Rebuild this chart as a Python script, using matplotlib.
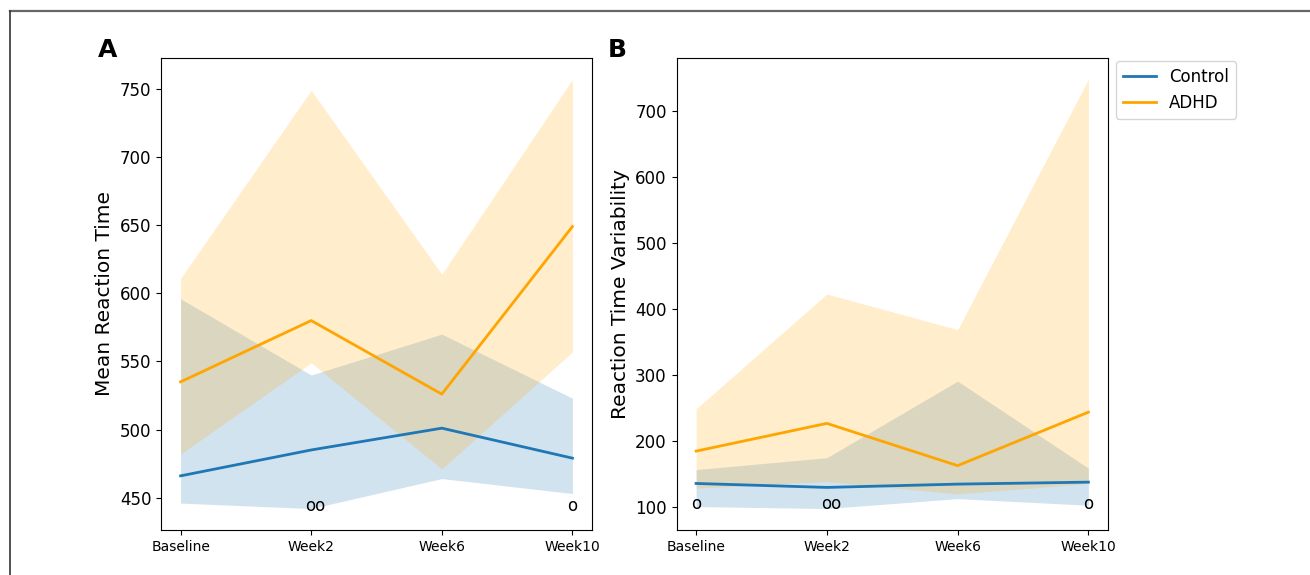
import numpy as np
import matplotlib
matplotlib.use('Agg')
from matplotlib import pyplot as plt
from matplotlib.lines import Line2D

# Data
weeks = ['Baseline', 'Week2', 'Week6', 'Week10']

# Panel A: mean reaction time
rt_control = [466, 485, 501, 479]
rt_control_lo = [446, 442, 464, 453]
rt_control_hi = [596, 540, 570, 523]
rt_adhd = [535, 580, 526, 649]
rt_adhd_lo = [482, 549, 471, 557]
rt_adhd_hi = [611, 749, 614, 757]
rt_marks = ['', 'oo', '', 'o']
rt_mark_y = 444

# Panel B: reaction time variability
var_control = [136, 130, 135, 138]
var_control_lo = [101, 98, 113, 103]
var_control_hi = [157, 175, 291, 159]
var_adhd = [185, 227, 163, 244]
var_adhd_lo = [129, 139, 120, 136]
var_adhd_hi = [249, 423, 369, 748]
var_marks = ['o', 'oo', '', 'o']
var_mark_y = 105

BLUE = '#1f77b4'
ORANGE = 'orange'
W, H = 1310, 575

fig = plt.figure(figsize=(W / 100, H / 100), dpi=100)
axA = fig.add_axes([161 / W, 1 - 530 / H, 431 / W, 472 / H])
axB = fig.add_axes([676.5 / W, 1 - 530 / H, 431.5 / W, 472 / H])

def draw_panel(ax, ctl, ctl_lo, ctl_hi, adhd, adhd_lo, adhd_hi, marks, mark_y, ylabel):
    x = np.arange(len(weeks))
    ax.plot(x, ctl, color=BLUE, lw=2, label='Control')
    ax.fill_between(x, ctl_lo, ctl_hi, color=BLUE, alpha=0.2, linewidth=0)
    ax.plot(x, adhd, color=ORANGE, lw=2, label='ADHD')
    ax.fill_between(x, adhd_lo, adhd_hi, color=ORANGE, alpha=0.2, linewidth=0)
    for xi, m in zip(x, marks):
        if m:
            ax.text(xi + (0.03 if len(m) > 1 else 0), mark_y, m,
                    ha='center', va='center', fontsize=12)
    ax.set_xticks(x)
    ax.set_xticklabels(weeks, fontsize=10)
    ax.tick_params(axis='y', labelsize=12)
    ax.set_ylabel(ylabel, fontsize=14.5)

draw_panel(axA, rt_control, rt_control_lo, rt_control_hi,
           rt_adhd, rt_adhd_lo, rt_adhd_hi, rt_marks, rt_mark_y, 'Mean Reaction Time')
draw_panel(axB, var_control, var_control_lo, var_control_hi,
           var_adhd, var_adhd_lo, var_adhd_hi, var_marks, var_mark_y, 'Reaction Time Variability')

axB.legend(loc='upper left', bbox_to_anchor=(1116 / W, 1 - 61 / H),
           bbox_transform=fig.transFigure, borderaxespad=0, fontsize=12)

# panel letters
fig.text(98 / W, 1 - 57 / H, 'A', fontsize=18, fontweight='bold', ha='left', va='baseline')
fig.text(608 / W, 1 - 57 / H, 'B', fontsize=18, fontweight='bold', ha='left', va='baseline')

# frame around the figure (cropped on right/bottom)
fig.add_artist(Line2D([9.5 / W, 1], [1 - 11 / H, 1 - 11 / H], color='#666666', lw=1.6,
                      transform=fig.transFigure))
fig.add_artist(Line2D([9.5 / W, 9.5 / W], [0, 1 - 11 / H], color='#333333', lw=1.2,
                      transform=fig.transFigure))

fig.savefig('out.png', dpi=100)
